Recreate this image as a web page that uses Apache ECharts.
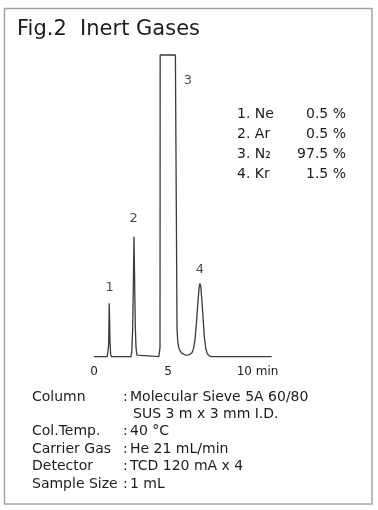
<!DOCTYPE html>
<html>
<head>
    <meta charset="utf-8">
    <style>
        html, body { margin: 0; padding: 0; background: #fff; }
    </style>
</head>
<body>
    <div id="main" style="width: 378px;height:510px;"></div>

    <script src="https://cdn.jsdelivr.net/npm/echarts/dist/echarts.min.js"></script>
    <script type="text/javascript">
        // chromatogram trace: time (min) / detector signal (0-100, peak 3 off scale)
        var times = [0.00, 0.90, 0.96, 0.99, 1.01, 1.03, 1.05, 1.08, 1.12, 1.17,
            2.50, 2.56, 2.61, 2.66, 2.70, 2.74, 2.79, 2.84, 2.90, 2.96,
            4.38, 4.43, 4.46, 4.47, 5.50, 5.61, 5.66, 5.73, 5.81, 5.92,
            6.03, 6.17, 6.28, 6.40, 6.52, 6.62, 6.72, 6.82, 6.92, 7.02,
            7.10, 7.16, 7.22, 7.30, 7.38, 7.46, 7.55, 7.65, 7.78, 7.95, 12.00];
        var signal = [0, 0, 0.3, 4, 11, 17.7, 13, 5, 1, 0,
            0, 2, 9, 24, 39.8, 27, 10, 3, 0.5, 0,
            0, 0.5, 3, 100, 100, 9, 5, 3, 2, 1.2,
            0.8, 0.55, 0.5, 0.6, 0.8, 1.3, 2.6, 5.5, 11, 18,
            22.8, 24.3, 23, 18, 12, 6.5, 2.8, 1, 0.3, 0, 0];

        // peak numbers and where they sit
        var peakNo = ['1', '2', '3', '4'];
        var peakLabelT = [1.05, 2.67, 6.35, 7.16];
        var peakLabelV = [22.8, 45.6, 91.5, 28.7];

        // composition list
        var peakNames = ['1. Ne', '2. Ar', '3. N\u2082', '4. Kr'];
        var peakPct = ['0.5 %', '0.5 %', '97.5 %', '1.5 %'];

        // conditions
        var infoLabels = ['Column', '', 'Col.Temp.', 'Carrier Gas', 'Detector', 'Sample Size'];
        var infoValues = ['Molecular Sieve 5A 60/80', 'SUS 3 m x 3 mm I.D.', '40 \u00b0C', 'He 21 mL/min', 'TCD 120 mA x 4', '1 mL'];

        var xTicks = [0, 5, 10];

        var FONT = 'DejaVu Sans';
        var TXT = '#1c1c1c';

        var trace = [];
        for (var i = 0; i < times.length; i++) {
            trace.push([times[i], signal[i]]);
        }
        var labelPts = [];
        for (var j = 0; j < peakNo.length; j++) {
            labelPts.push({ value: [peakLabelT[j], peakLabelV[j]], name: peakNo[j] });
        }

        var graphics = [
            {
                type: 'rect',
                shape: { x: 4.5, y: 8.5, width: 367.5, height: 495.5 },
                style: { fill: 'none', stroke: '#a3a3a3', lineWidth: 1.5 }
            },
            {
                type: 'text', left: 17, top: 19,
                style: { text: 'Fig.2  Inert Gases', font: '21px "' + FONT + '"', fill: TXT }
            }
        ];
        for (var k = 0; k < peakNames.length; k++) {
            graphics.push({
                type: 'text', x: 237, y: 114 + k * 20,
                style: { text: peakNames[k], font: '14px "' + FONT + '"', fill: TXT, verticalAlign: 'middle' }
            });
            graphics.push({
                type: 'text', x: 346, y: 114 + k * 20,
                style: { text: peakPct[k], font: '14px "' + FONT + '"', fill: TXT, align: 'right', verticalAlign: 'middle' }
            });
        }
        var rowY = [397, 414, 431.5, 449, 466.5, 484];
        for (var r = 0; r < infoValues.length; r++) {
            if (infoLabels[r]) {
                graphics.push({
                    type: 'text', x: 32, y: rowY[r],
                    style: { text: infoLabels[r], font: '14px "' + FONT + '"', fill: TXT, verticalAlign: 'middle' }
                });
                graphics.push({
                    type: 'text', x: 123, y: rowY[r],
                    style: { text: ':', font: '14px "' + FONT + '"', fill: TXT, verticalAlign: 'middle' }
                });
            }
            graphics.push({
                type: 'text', x: infoLabels[r] ? 130 : 133, y: rowY[r],
                style: { text: infoValues[r], font: '14px "' + FONT + '"', fill: TXT, verticalAlign: 'middle' }
            });
        }

        var myChart = echarts.init(document.getElementById('main'));
        var option = {
            animation: false,
            backgroundColor: '#fff',
            grid: { left: 94, right: 106.4, top: 55, bottom: 153.3 },
            xAxis: {
                type: 'value',
                min: 0,
                max: 12,
                interval: 5,
                axisLine: { show: false },
                axisTick: { show: false },
                splitLine: { show: false },
                axisLabel: {
                    margin: 9,
                    color: TXT,
                    fontFamily: FONT,
                    fontSize: 12,
                    showMaxLabel: false,
                    formatter: function (v) {
                        if (xTicks.indexOf(v) < 0) return '';
                        if (v === 10) return '{m|10 min}';
                        return String(v);
                    },
                    rich: {
                        m: { padding: [0, 0, 0, 31], fontFamily: FONT, fontSize: 12, color: TXT }
                    }
                }
            },
            yAxis: {
                type: 'value',
                min: 0,
                max: 100,
                show: false
            },
            graphic: graphics,
            series: [
                {
                    type: 'line',
                    data: trace,
                    showSymbol: false,
                    clip: false,
                    lineStyle: { color: '#3a3a3a', width: 1.3 }
                },
                {
                    type: 'scatter',
                    data: labelPts,
                    symbolSize: 0,
                    label: {
                        show: true,
                        position: 'inside',
                        formatter: '{b}',
                        color: TXT,
                        fontFamily: FONT,
                        fontSize: 13
                    }
                }
            ]
        };
        myChart.setOption(option);
    </script>
</body>
</html>
